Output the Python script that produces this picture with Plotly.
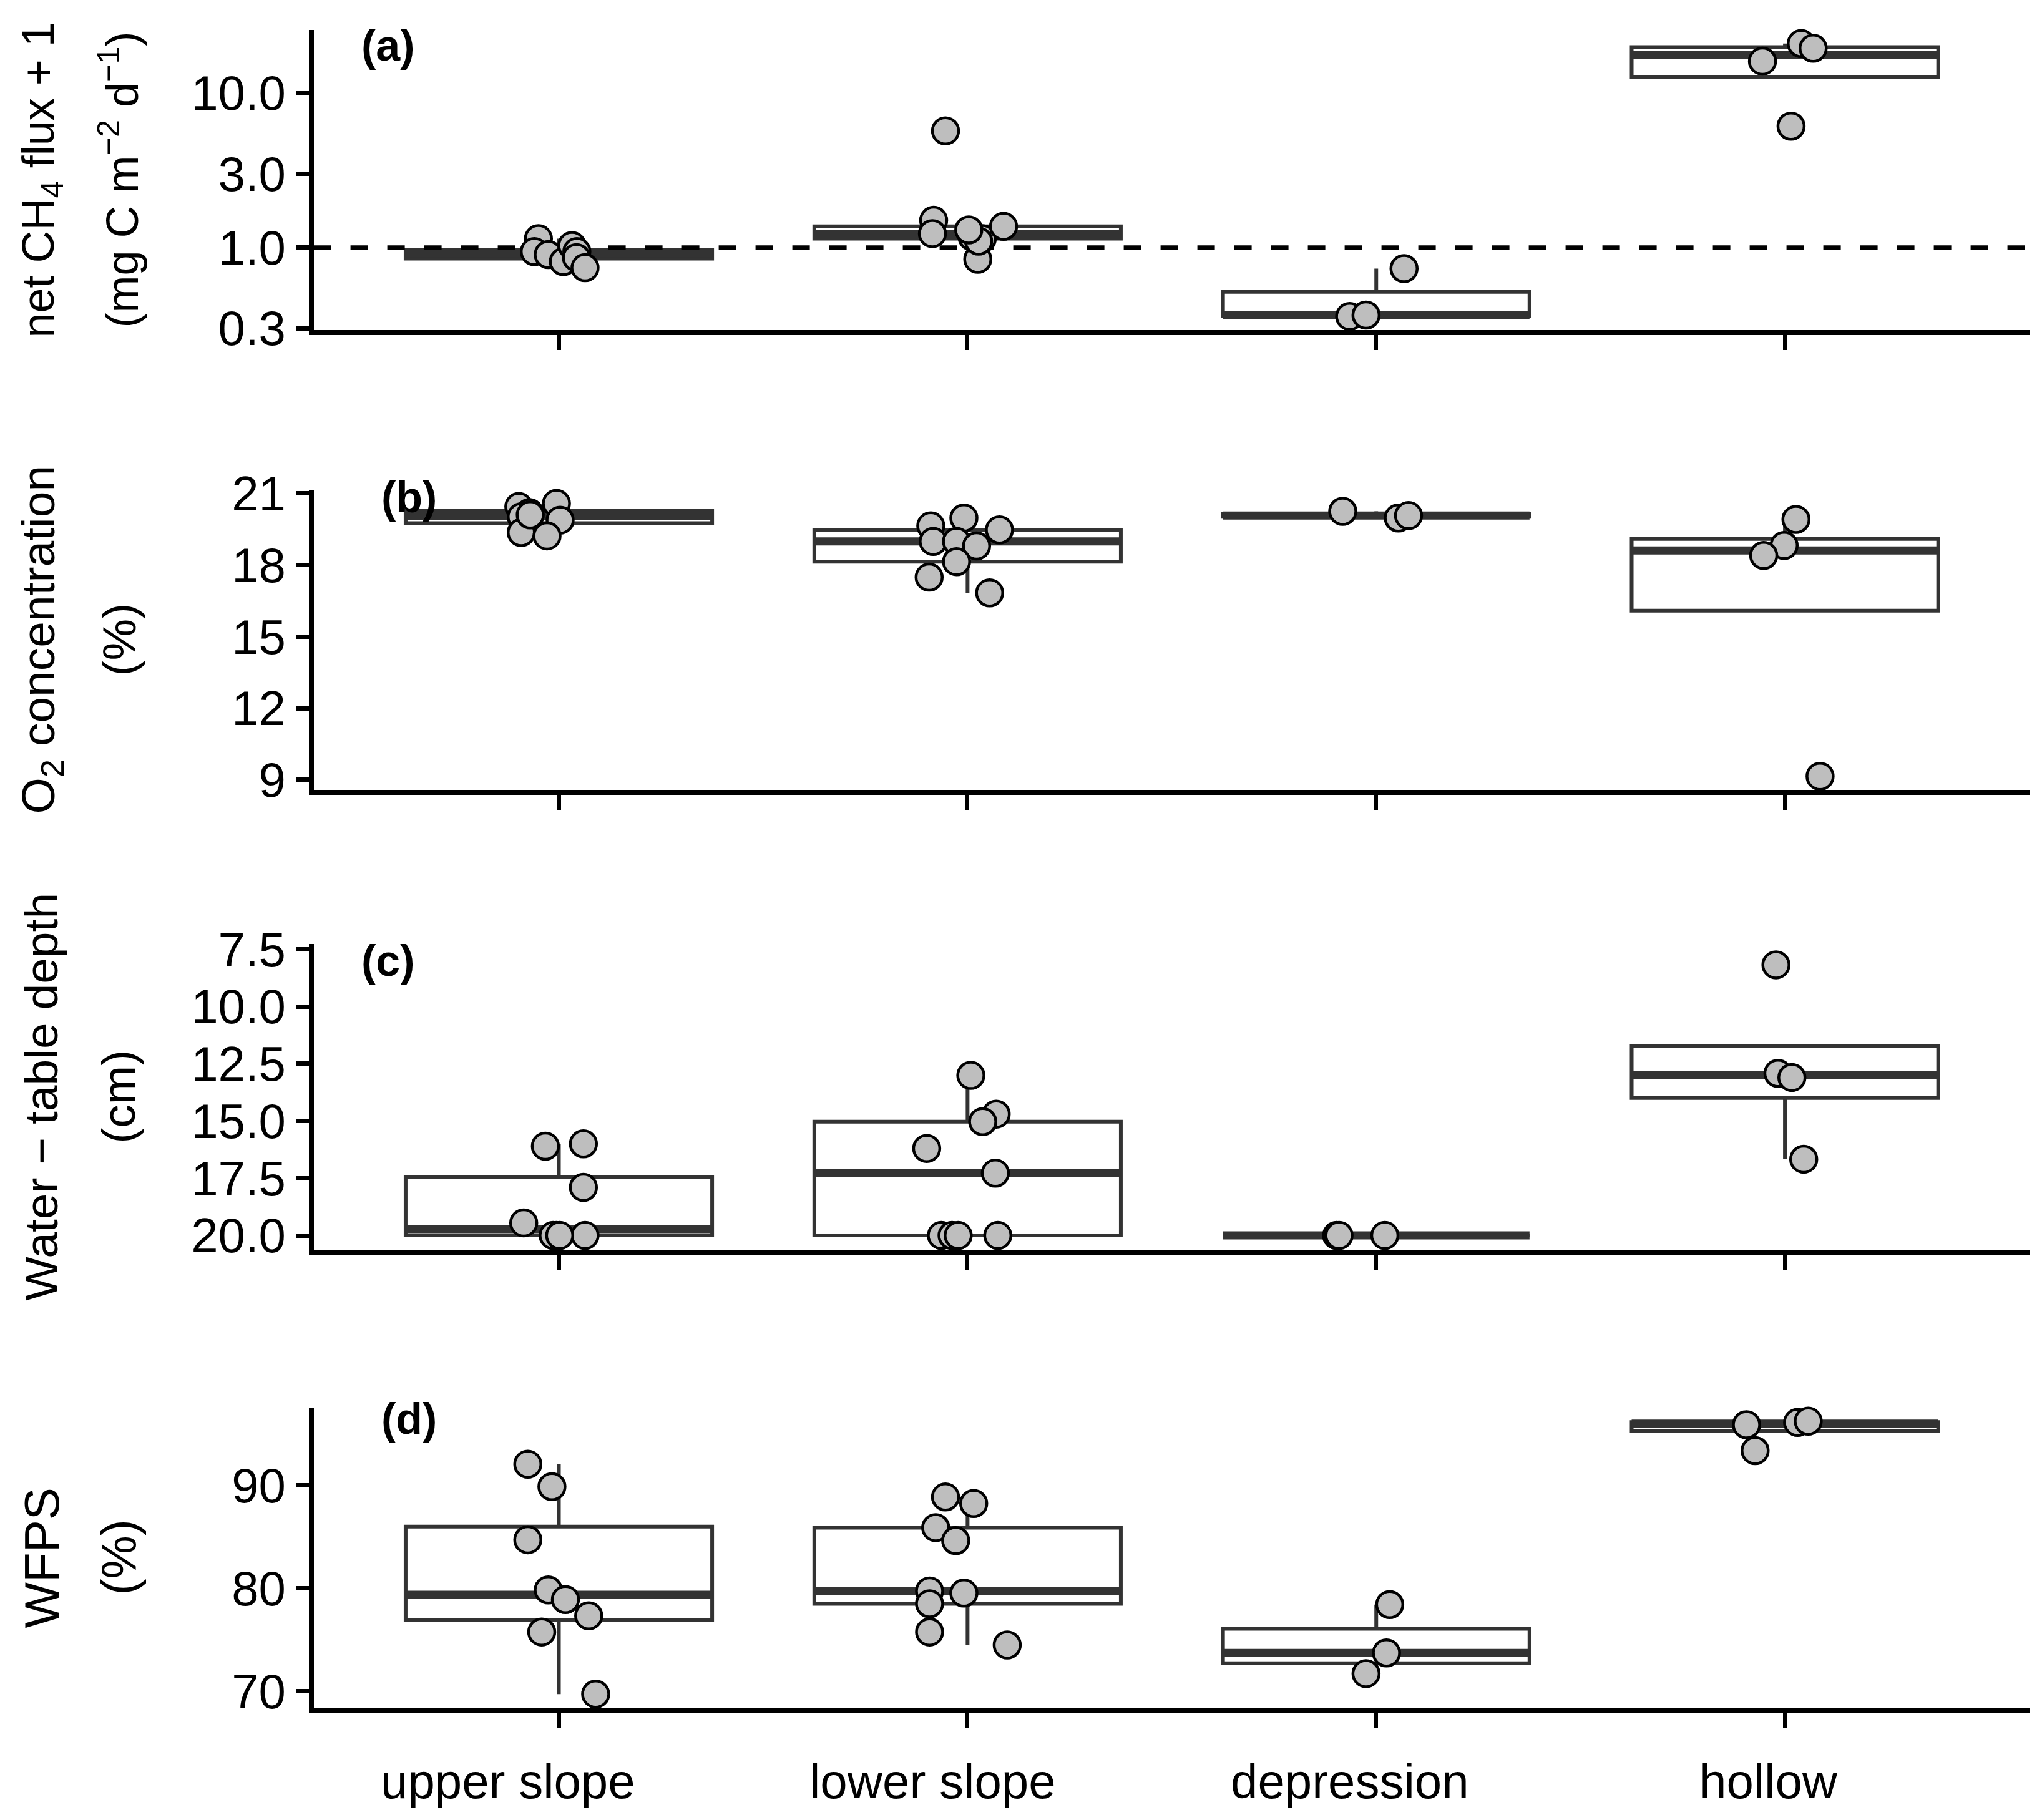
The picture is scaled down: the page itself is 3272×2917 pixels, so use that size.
import numpy as np
import plotly.graph_objects as go

sites = ['upper slope', 'lower slope', 'depression', 'hollow']

# (a) net CH4 flux + 1 (mg C m-2 d-1), one list per site
ch4 = [
    [1.14, 0.94, 0.90, 0.81, 1.03, 0.94, 0.86, 0.74],
    [5.69, 1.50, 1.23, 1.17, 1.14, 1.37, 0.84, 1.10, 1.30],
    [0.73, 0.358, 0.365],
    [20.9, 19.5, 16.1, 6.1],
]
ch4_jit = [
    [-0.050, -0.060, -0.026, 0.011, 0.032, 0.044, 0.043, 0.064],
    [-0.054, -0.083, -0.086, 0.011, 0.036, 0.088, 0.025, 0.027, 0.003],
    [0.068, -0.065, -0.025],
    [0.040, 0.069, -0.055, 0.015],
]

# (b) O2 concentration (%)
o2 = [
    [20.45, 20.2, 20.58, 20.02, 19.88, 19.36, 19.22, 20.1],
    [19.64, 19.97, 19.47, 18.99, 18.99, 18.80, 18.14, 17.49, 16.83],
    [20.25, 19.97, 20.07],
    [19.91, 18.82, 18.40, 9.15],
]
o2_jit = [
    [-0.098, -0.072, -0.006, -0.092, 0.003, -0.092, -0.029, -0.070],
    [-0.090, -0.009, 0.078, -0.084, -0.027, 0.022, -0.027, -0.094, 0.054],
    [-0.082, 0.054, 0.079],
    [0.027, -0.002, -0.052, 0.086],
]

# (c) water-table depth (cm)
wtd = [
    [16.1, 16.0, 17.9, 19.45, 20.0, 20.0, 20.0, 20.0],
    [13.01, 14.70, 15.03, 16.20, 17.28, 20.0, 20.0, 20.0, 20.0],
    [20.0, 20.0, 20.0],
    [8.18, 12.92, 13.10, 16.67],
]
wtd_jit = [
    [-0.033, 0.060, 0.060, -0.086, -0.006, 0.064, -0.014, 0.002],
    [0.008, 0.070, 0.037, -0.100, 0.068, -0.064, -0.038, -0.023, 0.074],
    [-0.097, 0.021, -0.091],
    [-0.022, -0.017, 0.017, 0.046],
]

# (d) WFPS (%)
wfps = [
    [92.03, 89.85, 84.70, 79.84, 78.90, 77.33, 75.76, 69.74],
    [88.85, 88.22, 85.88, 84.62, 79.74, 79.53, 78.49, 75.76, 74.50],
    [78.42, 73.73, 71.72],
    [95.86, 96.08, 96.2, 93.35],
]
wfps_jit = [
    [-0.076, -0.017, -0.076, -0.026, 0.016, 0.073, -0.042, 0.090],
    [-0.054, 0.015, -0.078, -0.029, -0.093, -0.009, -0.093, -0.093, 0.097],
    [0.033, 0.025, -0.025],
    [-0.094, 0.031, 0.057, -0.073],
]

ch4_ticks = [0.3, 1, 3, 10]
ch4_ticktext = ['0.3', '1.0', '3.0', '10.0']
o2_ticks = [9, 12, 15, 18, 21]
wtd_ticks = [7.5, 10, 12.5, 15, 17.5, 20]
wtd_ticktext = ['7.5', '10.0', '12.5', '15.0', '17.5', '20.0']
wtd_limits = [20.61, 7.27]   # reversed axis
wfps_ticks = [70, 80, 90]

# x label centres are a bit left of the ticks in the original
label_shift = [-0.125, -0.085, -0.065, -0.040]

FONT = 'Liberation Sans, Arial, Helvetica, sans-serif'
BOX_COL = '#333333'
PT_COL = '#BEBEBE'
BOX_W = 0.75
X_RANGE = [-0.6, 3.6]
W, H = 3272, 2917


def box_stats(groups, log=False):
    # ggplot style: type 7 quartiles, whiskers to last point within 1.5 IQR
    out = {'q1': [], 'med': [], 'q3': [], 'lo': [], 'hi': []}
    for g in groups:
        v = np.asarray(g, float)
        if log:
            v = np.log10(v)
        q1, med, q3 = np.percentile(v, [25, 50, 75])
        iqr = q3 - q1
        inside = v[(v >= q1 - 1.5 * iqr) & (v <= q3 + 1.5 * iqr)]
        lo = min(q1, inside.min())
        hi = max(q3, inside.max())
        for key, s in zip(['q1', 'med', 'q3', 'lo', 'hi'], [q1, med, q3, lo, hi]):
            out[key].append(10 ** s if log else s)
    return out


def pad_range(groups, log=False):
    v = np.concatenate([np.asarray(g, float) for g in groups])
    if log:
        v = np.log10(v)
    lo, hi = v.min(), v.max()
    p = 0.05 * (hi - lo)
    return [lo - p, hi + p]


panels = [
    dict(vals=ch4, jit=ch4_jit, log=True),
    dict(vals=o2, jit=o2_jit, log=False),
    dict(vals=wtd, jit=wtd_jit, log=False),
    dict(vals=wfps, jit=wfps_jit, log=False),
]

# panel edges in pixels of the original (top, bottom)
panel_px = [(40, 521), (777, 1258), (1505, 1994.5), (2248, 2729)]
xdom = [494.6 / W, 3245 / W]
ydoms = [[1 - b / H, 1 - t / H] for t, b in panel_px]

fig = go.Figure()

for k, p in enumerate(panels):
    n = '' if k == 0 else str(k + 1)
    xa, ya = 'x' + n, 'y' + n
    st = box_stats(p['vals'], p['log'])
    pos = list(range(len(sites)))

    fig.add_trace(go.Box(
        x=pos, q1=st['q1'], median=st['med'], q3=st['q3'],
        lowerfence=st['lo'], upperfence=st['hi'],
        width=BOX_W, whiskerwidth=0, boxpoints=False,
        fillcolor='white', line=dict(color=BOX_COL, width=6),
        xaxis=xa, yaxis=ya, showlegend=False, hoverinfo='skip'))

    # thicker median bar, as in ggplot
    mx, my = [], []
    for i, m in enumerate(st['med']):
        mx += [i - BOX_W / 2, i + BOX_W / 2, None]
        my += [m, m, None]
    fig.add_trace(go.Scatter(x=mx, y=my, mode='lines',
                             line=dict(color=BOX_COL, width=13),
                             xaxis=xa, yaxis=ya, showlegend=False, hoverinfo='skip'))

    if k == 0:
        fig.add_trace(go.Scatter(x=X_RANGE, y=[1, 1], mode='lines',
                                 line=dict(color='black', width=7, dash='28px,31px'),
                                 xaxis=xa, yaxis=ya, showlegend=False, hoverinfo='skip'))

    px, py = [], []
    for i, (g, j) in enumerate(zip(p['vals'], p['jit'])):
        px += [i + d for d in j]
        py += list(g)
    fig.add_trace(go.Scatter(x=px, y=py, mode='markers',
                             marker=dict(size=42, color=PT_COL,
                                         line=dict(color='black', width=4.5)),
                             cliponaxis=False,
                             xaxis=xa, yaxis=ya, showlegend=False))

axis_common = dict(showgrid=False, zeroline=False, showline=True, linewidth=8,
                   linecolor='black', ticks='outside', tickcolor='black',
                   automargin=False,
                   tickfont=dict(family=FONT, size=78, color='black'))

layout = {}
for k, p in enumerate(panels):
    n = '' if k == 0 else str(k + 1)
    layout['xaxis' + n] = dict(axis_common, domain=xdom, anchor='y' + n,
                               range=X_RANGE, tickvals=[0, 1, 2, 3],
                               showticklabels=False, ticklen=24, tickwidth=6)
    yr = pad_range(p['vals'], p['log'])
    ya = dict(axis_common, domain=ydoms[k], anchor='x' + n, ticklen=21, tickwidth=7)
    if k == 0:
        ya.update(type='log', range=yr, tickvals=ch4_ticks, ticktext=ch4_ticktext)
    elif k == 1:
        ya.update(range=yr, tickvals=o2_ticks)
    elif k == 2:
        ya.update(range=wtd_limits, tickvals=wtd_ticks, ticktext=wtd_ticktext)
    else:
        ya.update(range=yr, tickvals=wfps_ticks)
    layout['yaxis' + n] = ya

fig.update_layout(**layout)

ann = []
titles = [
    ('net CH<sub>4</sub> flux + 1', '(mg C m<sup>\u22122</sup> d<sup>\u22121</sup>)'),
    ('O<sub>2</sub> concentration', '(%)'),
    ('Water \u2212 table depth', '(cm)'),
    ('WFPS', '(%)'),
]
title_size = [72, 75, 75, 78]
letters = ['(a)', '(b)', '(c)', '(d)']
letter_pos = [(614, 65), (647, 789), (614, 1532), (647, 2266)]

for k, (t1, t2) in enumerate(titles):
    yc = (ydoms[k][0] + ydoms[k][1]) / 2
    for txt, xpx in [(t1, 58), (t2, 182)]:
        ann.append(dict(text=txt, x=xpx / W, y=yc, xref='paper', yref='paper',
                        textangle=-90, showarrow=False, xanchor='center', yanchor='middle',
                        font=dict(family=FONT, size=title_size[k], color='black')))
    lx, ly = letter_pos[k]
    ann.append(dict(text='<b>' + letters[k] + '</b>', x=lx / W, y=1 - ly / H,
                    xref='paper', yref='paper', showarrow=False,
                    xanchor='center', yanchor='middle',
                    font=dict(family=FONT, size=70, color='black')))

for i, s in enumerate(sites):
    ann.append(dict(text=s, x=i + label_shift[i], y=1 - 2847 / H,
                    xref='x4', yref='paper', showarrow=False,
                    xanchor='center', yanchor='middle',
                    font=dict(family=FONT, size=78, color='black')))

fig.update_layout(
    annotations=ann,
    width=W, height=H,
    margin=dict(l=0, r=0, t=0, b=0, pad=0, autoexpand=False),
    plot_bgcolor='white', paper_bgcolor='white',
    font=dict(family=FONT, color='black'),
)

fig.write_html('out.html')
